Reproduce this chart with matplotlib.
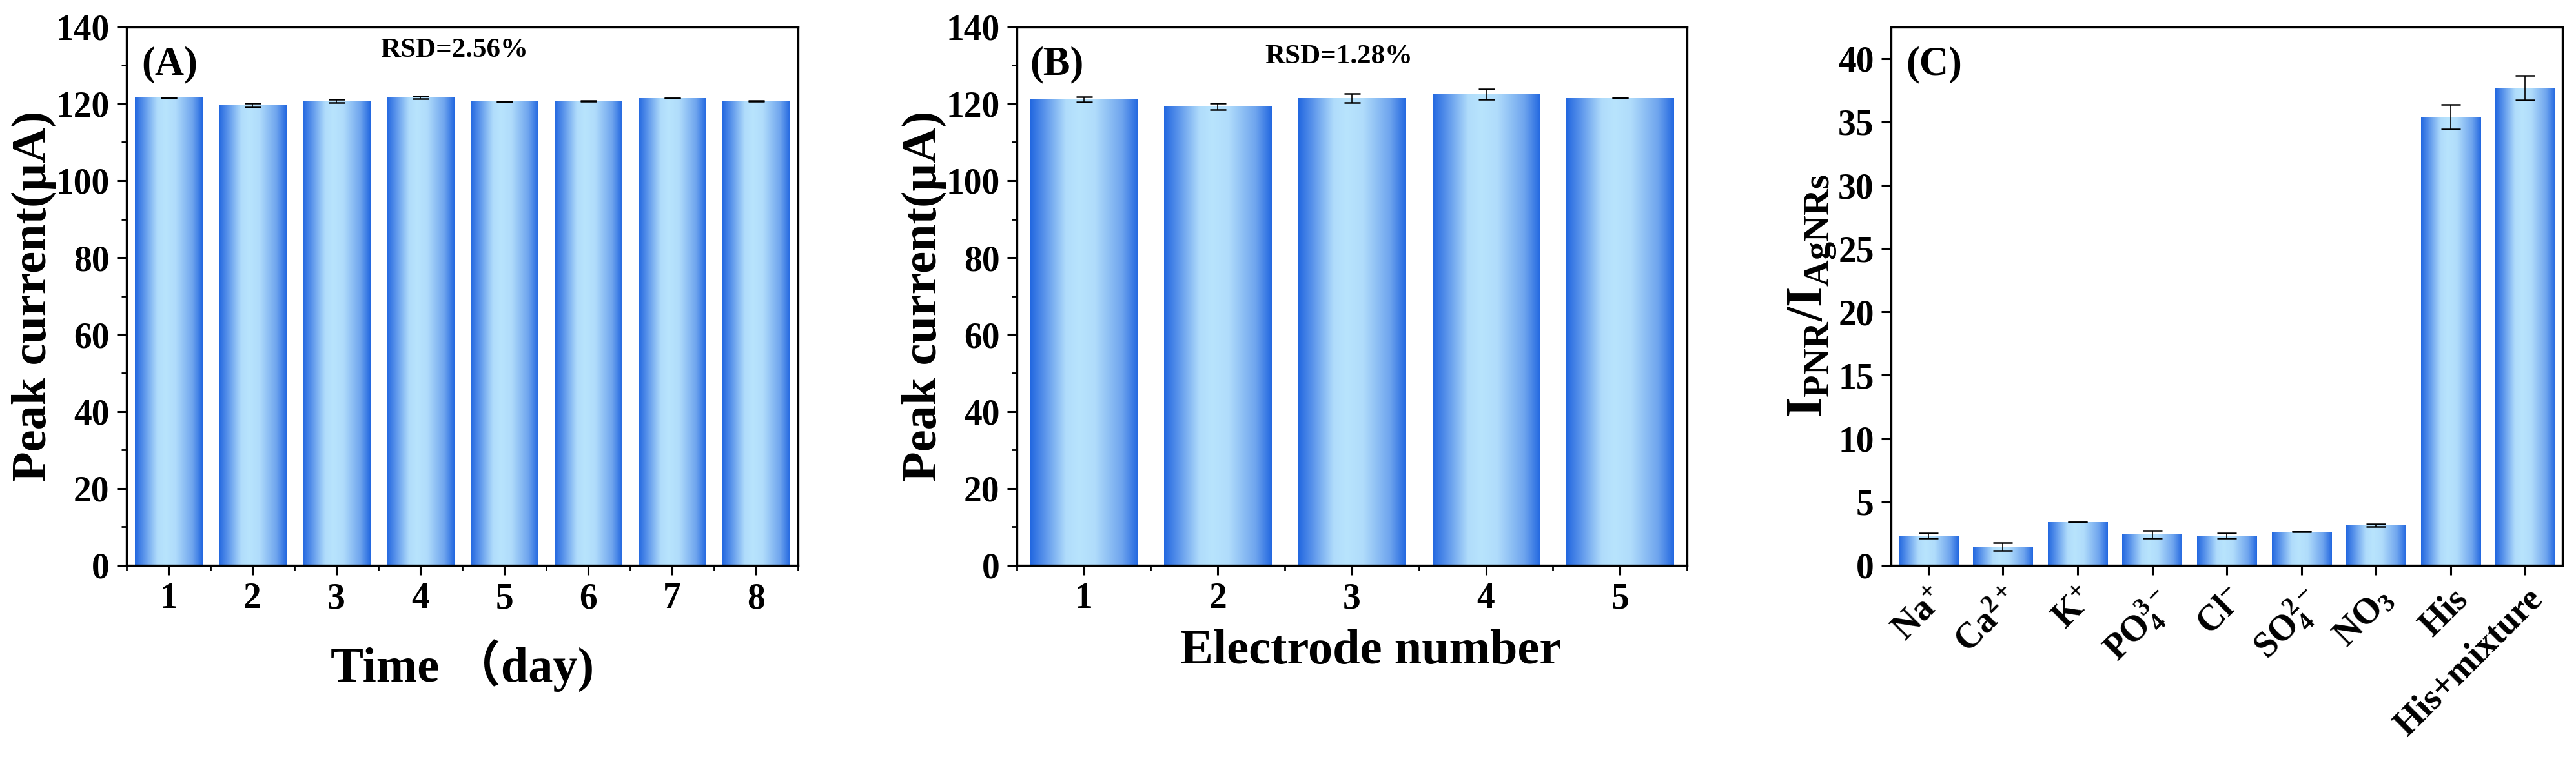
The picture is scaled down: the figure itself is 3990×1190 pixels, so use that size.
import numpy as np
import matplotlib
matplotlib.use("Agg")
import matplotlib.pyplot as plt
from matplotlib.colors import LinearSegmentedColormap
from matplotlib.ticker import MultipleLocator

plt.rcParams["font.family"] = ["Liberation Serif", "Noto Sans CJK SC"]
plt.rcParams["font.weight"] = "bold"
plt.rcParams["axes.labelweight"] = "bold"
plt.rcParams["mathtext.fontset"] = "custom"
plt.rcParams["mathtext.rm"] = "Liberation Serif:bold"
plt.rcParams["mathtext.it"] = "Liberation Serif:bold"
plt.rcParams["mathtext.bf"] = "Liberation Serif:bold"
plt.rcParams["mathtext.default"] = "bf"

# ---------------- data ----------------
days = ["1", "2", "3", "4", "5", "6", "7", "8"]
day_current = [121.6, 119.7, 120.7, 121.6, 120.6, 120.7, 121.5, 120.7]
day_err = [0.1, 0.5, 0.4, 0.3, 0.05, 0.1, 0.02, 0.1]

electrodes = ["1", "2", "3", "4", "5"]
elec_current = [121.2, 119.3, 121.5, 122.5, 121.5]
elec_err = [0.65, 0.8, 1.2, 1.3, 0.1]

ions = ["Na$^{+}$", "Ca$^{2+}$", "K$^{+}$", "PO$_4^{3-}$", "Cl$^{-}$",
        "SO$_4^{2-}$", "NO$_3$", "His", "His+mixture"]
ratio = [2.34, 1.45, 3.40, 2.42, 2.34, 2.66, 3.13, 35.4, 37.7]
ratio_err = [0.2, 0.3, 0.02, 0.3, 0.2, 0.02, 0.1, 0.96, 0.98]

# bar gradient: dark edges, light centre
grad = LinearSegmentedColormap.from_list(
    "bar", [(0.0, "#2368e0"), (0.12, "#5590ea"), (0.33, "#b0dcfb"),
            (0.45, "#b8e4fd"), (0.6, "#b0dcfb"), (0.85, "#6fa5ee"),
            (1.0, "#2368e0")])
strip = np.linspace(0, 1, 256).reshape(1, -1)

TICK_FS = 40
LABEL_FS = 55


def gradient_bars(ax, x, h, err, capsize):
    bars = ax.bar(x, h, width=0.8, color="none", edgecolor="none", zorder=2)
    for b in bars:
        x0, y0 = b.get_x(), b.get_y()
        im = ax.imshow(strip, cmap=grad, aspect="auto", zorder=2,
                       extent=[x0, x0 + b.get_width(), y0, y0 + b.get_height()])
        im.set_clip_path(b)
    ax.errorbar(x, h, yerr=err, fmt="none", ecolor="black", elinewidth=1.2,
                capsize=capsize, capthick=1.8, zorder=3)


def style(ax, minor=True):
    for s in ax.spines.values():
        s.set_linewidth(2.4)
    ax.tick_params(which="major", direction="out", length=11, width=2.2,
                   labelsize=TICK_FS, pad=8)
    ax.tick_params(which="minor", direction="out", length=6, width=2.0)
    if minor:
        ax.yaxis.set_minor_locator(MultipleLocator(10))
        ax.xaxis.set_minor_formatter(plt.NullFormatter())


fig = plt.figure(figsize=(39.9, 11.9), dpi=100)

# ---------------- (A) ----------------
axA = fig.add_axes([0.0491, 0.264, 0.2607, 0.701])
xA = np.arange(1, len(days) + 1)
gradient_bars(axA, xA, day_current, day_err, 9)
axA.set_xlim(0.5, len(days) + 0.5)
axA.set_ylim(0, 140)
axA.set_xticks(xA, days)
axA.set_yticks(np.arange(0, 141, 20))
style(axA)
axA.xaxis.set_minor_locator(plt.FixedLocator(np.arange(0.5, len(days) + 1, 1)))
axA.set_ylabel("Peak current(μA)", fontsize=LABEL_FS)
axA.yaxis.set_label_coords(-0.105, 0.5)
axA.set_xlabel("Time （day)", fontsize=LABEL_FS)
axA.xaxis.set_label_coords(0.5, -0.137)
axA.text(0.022, 0.93, "(A)", transform=axA.transAxes, fontsize=45,
         ha="left", va="center")
axA.text(0.488, 0.956, "RSD=2.56%", transform=axA.transAxes, fontsize=31,
         ha="center", va="center")

# ---------------- (B) ----------------
axB = fig.add_axes([0.3947, 0.264, 0.2602, 0.701])
xB = np.arange(1, len(electrodes) + 1)
gradient_bars(axB, xB, elec_current, elec_err, 9)
axB.set_xlim(0.5, len(electrodes) + 0.5)
axB.set_ylim(0, 140)
axB.set_xticks(xB, electrodes)
axB.set_yticks(np.arange(0, 141, 20))
style(axB)
axB.xaxis.set_minor_locator(plt.FixedLocator(np.arange(0.5, len(electrodes) + 1, 1)))
axB.set_ylabel("Peak current(μA)", fontsize=LABEL_FS)
axB.yaxis.set_label_coords(-0.105, 0.5)
axB.set_xlabel("Electrode number", fontsize=LABEL_FS)
axB.xaxis.set_label_coords(0.528, -0.119)
axB.text(0.02, 0.93, "(B)", transform=axB.transAxes, fontsize=45,
         ha="left", va="center")
axB.text(0.48, 0.944, "RSD=1.28%", transform=axB.transAxes, fontsize=31,
         ha="center", va="center")

# ---------------- (C) ----------------
axC = fig.add_axes([0.7341, 0.264, 0.2607, 0.701])
xC = np.arange(1, len(ions) + 1)
gradient_bars(axC, xC, ratio, ratio_err, 11)
axC.set_xlim(0.5, len(ions) + 0.5)
axC.set_ylim(0, 42.5)
axC.set_yticks(np.arange(0, 41, 5))
axC.set_xticks(xC)
axC.set_xticklabels(ions, rotation=45, ha="right", va="top",
                    rotation_mode="anchor")
style(axC, minor=False)
axC.set_ylabel("I$_{PNR}$/I$_{AgNRs}$", fontsize=LABEL_FS + 3)
axC.yaxis.set_label_coords(-0.078, 0.5)
axC.text(0.022, 0.93, "(C)", transform=axC.transAxes, fontsize=45,
         ha="left", va="center")

fig.savefig("out.png", dpi=100, facecolor="white")
